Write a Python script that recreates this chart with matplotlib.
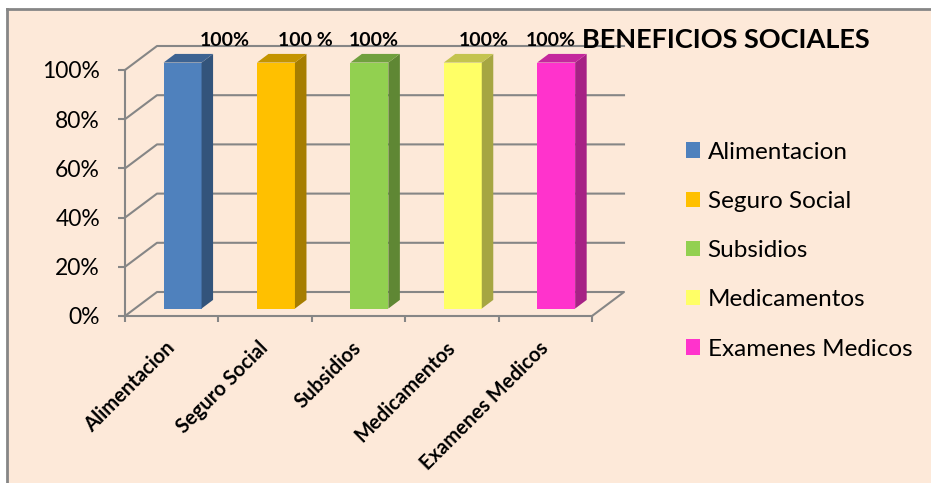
import numpy as np
import matplotlib
matplotlib.use("Agg")
import matplotlib.pyplot as plt
from matplotlib.patches import Polygon, Patch, Rectangle
from matplotlib.lines import Line2D

# datos del grafico
categorias = ["Alimentacion", "Seguro Social", "Subsidios", "Medicamentos", "Examenes Medicos"]
valores = [100, 100, 100, 100, 100]
etiquetas = ["100%", "100 %", "100%", "100%", "100%"]
ticks_y = [0, 20, 40, 60, 80, 100]

colores = ["#4F81BD", "#FFC000", "#92D050", "#FFFF66", "#FF33CC"]
fondo = "#FDE9D9"
gris = "#868686"

# desplazamiento de las etiquetas de valor (pixeles)
desp_etq = [(42, 29), (29, 29), (4, 29), (21, 29), (-5, 29)]

W, H = 931, 483
fig = plt.figure(figsize=(W / 100, H / 100), dpi=100)
fig.patch.set_facecolor("white")
plt.rcParams["font.family"] = ["Lato", "DejaVu Sans"]

# marco del area del grafico
fig.patches.append(Rectangle((7 / W, 0), 1, 1 - 9 / H, transform=fig.transFigure,
                             facecolor=fondo, edgecolor="none", zorder=-5))
fig.lines.append(Line2D([7 / W, 7 / W], [0, 1 - 9 / H], transform=fig.transFigure,
                        color=gris, lw=2, zorder=-4))
fig.lines.append(Line2D([7 / W, 1], [1 - 9 / H, 1 - 9 / H], transform=fig.transFigure,
                        color=gris, lw=2, zorder=-4))

ax = fig.add_axes([125 / W, 167 / H, 467 / W, 246 / H])
ax.set_facecolor("none")
n = len(categorias)
ax.set_xlim(-0.5, n - 0.5)
ax.set_ylim(0, 100)

# profundidad de la vista 3D en unidades de datos
dx = 32 / (467 / n)
dy = 24 / 2.46

lw = 1.5
# piso y paredes
x0, x1 = -0.5, n - 0.5
ax.plot([x0, x0 + dx, x1 + dx, x1], [0, dy, dy, 0], color=gris, lw=lw, clip_on=False, zorder=1)
for t in ticks_y[1:]:
    ax.plot([x0, x0 + dx, x1 + dx], [t, t + dy, t + dy], color=gris, lw=lw, clip_on=False, zorder=1)


def sombra(c, f):
    r, g, b = matplotlib.colors.to_rgb(c)
    return (r * f, g * f, b * f)


# columnas 3D
ancho = 38 / (467 / n)
f0, f1 = 0.31, 0.67
for i, (v, c) in enumerate(zip(valores, colores)):
    cx = i + f0 * dx + 0.01
    xl, xr = cx - ancho / 2, cx + ancho / 2
    y0 = f0 * dy
    ex, ey = (f1 - f0) * dx, (f1 - f0) * dy
    frente = Polygon([(xl, y0), (xr, y0), (xr, y0 + v), (xl, y0 + v)], closed=True,
                     facecolor=c, edgecolor="none", zorder=3, clip_on=False)
    lado = Polygon([(xr, y0), (xr + ex, y0 + ey), (xr + ex, y0 + v + ey), (xr, y0 + v)],
                   closed=True, facecolor=sombra(c, 0.65), edgecolor="none", zorder=3, clip_on=False)
    tapa = Polygon([(xl, y0 + v), (xr, y0 + v), (xr + ex, y0 + v + ey), (xl + ex, y0 + v + ey)],
                   closed=True, facecolor=sombra(c, 0.77), edgecolor="none", zorder=3, clip_on=False)
    for p in (frente, lado, tapa):
        ax.add_patch(p)
    ax.annotate(etiquetas[i], xy=(cx, v), xytext=(desp_etq[i][0] * 0.72, desp_etq[i][1] * 0.72),
                textcoords="offset points", ha="center", va="center",
                fontsize=14, fontweight="bold", color="black", zorder=5, annotation_clip=False)

# ejes
for s in ("top", "right"):
    ax.spines[s].set_visible(False)
for s in ("left", "bottom"):
    ax.spines[s].set_color(gris)
    ax.spines[s].set_linewidth(lw)
    ax.spines[s].set_zorder(2)

ax.set_yticks(ticks_y)
ax.set_yticklabels([f"{t}%" for t in ticks_y], fontsize=16.5)
ax.tick_params(axis="y", length=5, width=lw, color=gris, pad=13)

ax.set_xticks(np.arange(n + 1) - 0.5)
ax.set_xticklabels([""] * (n + 1))
ax.tick_params(axis="x", which="major", length=4.5, width=lw, color=gris)
ax.set_xticks(np.arange(n), minor=True)
ax.set_xticklabels(categorias, minor=True, rotation=45, ha="right", va="center",
                   rotation_mode="anchor", fontsize=14.5, fontweight="bold")
ax.tick_params(axis="x", which="minor", length=0, pad=21)

# titulo
fig.text(582 / W, 1 - 40 / H, "BENEFICIOS SOCIALES", fontsize=19.5, fontweight="bold",
         ha="left", va="center")

# leyenda
manejadores = [Patch(facecolor=c, edgecolor="none", label=l) for c, l in zip(colores, categorias)]
fig.legend(handles=manejadores, loc="upper left", bbox_to_anchor=(676 / W, 1 - 132 / H),
           frameon=False, fontsize=17.5, handlelength=0.6, handleheight=0.6,
           handletextpad=0.3, labelspacing=1.16, borderaxespad=0)

fig.savefig("out.png", dpi=100, facecolor=fig.get_facecolor())
